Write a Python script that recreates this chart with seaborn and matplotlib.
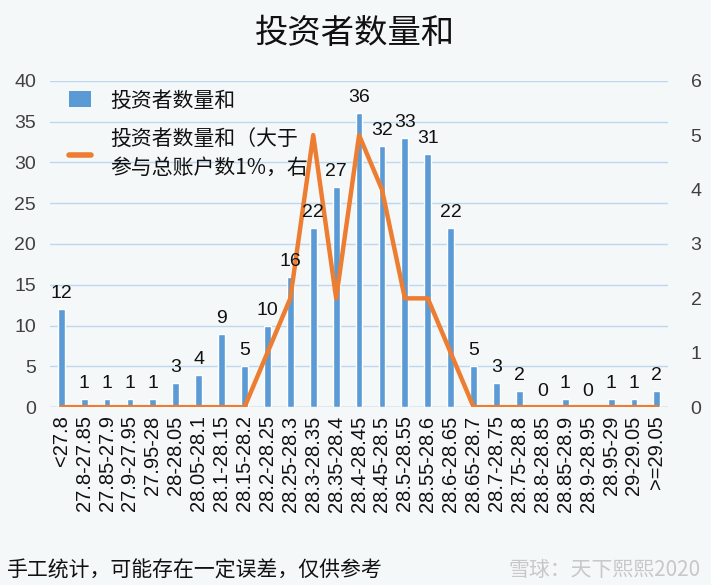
import numpy as np
import matplotlib
matplotlib.use("Agg")
import matplotlib.pyplot as plt
import seaborn as sns
from matplotlib.patches import Patch
from matplotlib.lines import Line2D

# data
categories = ["<27.8", "27.8-27.85", "27.85-27.9", "27.9-27.95", "27.95-28",
              "28-28.05", "28.05-28.1", "28.1-28.15", "28.15-28.2", "28.2-28.25",
              "28.25-28.3", "28.3-28.35", "28.35-28.4", "28.4-28.45", "28.45-28.5",
              "28.5-28.55", "28.55-28.6", "28.6-28.65", "28.65-28.7", "28.7-28.75",
              "28.75-28.8", "28.8-28.85", "28.85-28.9", "28.9-28.95", "28.95-29",
              "29-29.05", ">=29.05"]
investors = [12, 1, 1, 1, 1, 3, 4, 9, 5, 10, 16, 22, 27, 36, 32, 33, 31, 22,
             5, 3, 2, 0, 1, 0, 1, 1, 2]
investors_big = [0, 0, 0, 0, 0, 0, 0, 0, 0, 1, 2, 5, 2, 5, 4, 2, 2, 1,
                 0, 0, 0, 0, 0, 0, 0, 0, 0]

bar_label = "投资者数量和"
line_label = "投资者数量和（大于\n参与总账户数1%，右"

BLUE = "#5B9BD5"
ORANGE = "#ED7D31"
BG = "#F5F8F8"
TXT = "#404040"
NUMFONT = ["Liberation Sans", "DejaVu Sans"]

sns.set_style("white")
plt.rcParams["font.family"] = ["Noto Sans CJK SC", "DejaVu Sans"]

fig = plt.figure(figsize=(7.11, 5.85), dpi=100, facecolor=BG)
ax = fig.add_axes([0.070, 0.304, 0.870, 0.558])
ax.set_facecolor(BG)

sns.barplot(x=categories, y=investors, color=BLUE, saturation=1, width=0.3,
            ax=ax, zorder=3)

ax.set_ylim(0, 40)
ax.set_yticks(range(0, 41, 5))
ax.set_xlim(-0.5, len(categories) - 0.5)
ax.grid(axis="y", color="#BDD7EE", linewidth=1, zorder=0)
ax.tick_params(axis="y", length=0, labelsize=14, labelcolor=TXT, pad=10)
ax.tick_params(axis="x", length=0, labelsize=14.5, labelcolor="#111111", rotation=90, pad=6)
for lab in ax.get_xticklabels() + ax.get_yticklabels():
    lab.set_family(NUMFONT)
for s in ax.spines.values():
    s.set_visible(False)
ax.axhline(0, color="#BFBFBF", linewidth=1, zorder=2)
ax.set_xlabel("")
ax.set_ylabel("")

ax2 = ax.twinx()
sns.lineplot(x=np.arange(len(categories)), y=investors_big, color=ORANGE,
             linewidth=3.2, ax=ax2, zorder=4)
ax2.set_ylim(0, 6)
ax2.set_yticks(range(0, 7))
ax2.tick_params(axis="y", length=0, labelsize=14, labelcolor=TXT, pad=16)
for lab in ax2.get_yticklabels():
    lab.set_family(NUMFONT)
for s in ax2.spines.values():
    s.set_visible(False)
ax2.set_ylabel("")

# bar value labels drawn on the top axes so they sit above the line
for i, v in enumerate(investors):
    ax2.annotate(str(v), xy=(i, v), xycoords=ax.transData, xytext=(0, 5),
                 textcoords="offset points", ha="center", va="bottom",
                 fontsize=14, color="#111111", family=NUMFONT, zorder=6)

handles = [Patch(facecolor=BLUE, edgecolor="none"),
           Line2D([0], [0], color=ORANGE, linewidth=4)]
leg = ax2.legend(handles, [bar_label, line_label], loc="upper left",
                 bbox_to_anchor=(0.0, 1.03), frameon=False, fontsize=15,
                 handlelength=1.1, handleheight=0.8, labelspacing=0.8,
                 handletextpad=0.9, labelcolor="#111111")
for t in leg.get_texts():
    t.set_linespacing(1.4)

fig.text(0.5, 0.942, "投资者数量和", ha="center", va="center", fontsize=24,
         color="#111111")
fig.text(0.01, 0.025, "手工统计，可能存在一定误差，仅供参考", ha="left",
         va="center", fontsize=15, style="italic", color="#111111")
fig.text(0.985, 0.025, "雪球：天下熙熙2020", ha="right", va="center",
         fontsize=15, color="#C8C8C8")

fig.savefig("out.png", dpi=100, facecolor=BG)
